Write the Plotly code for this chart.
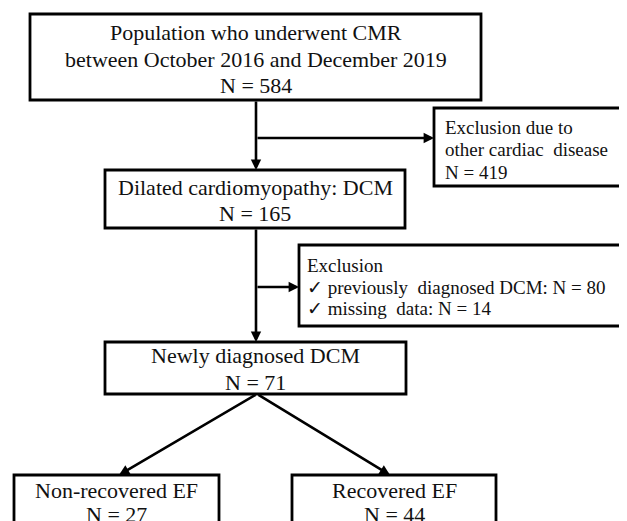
import plotly.graph_objects as go

W, H = 627, 521
OFF = 8  # page body margin offset compensation
FONT = "Liberation Serif, Times New Roman, serif"

# ---- data: node texts and counts ----
node_titles = [
    ["Population who underwent CMR", "between October 2016 and December 2019"],
    ["Dilated cardiomyopathy: DCM"],
    ["Newly diagnosed DCM"],
    ["Non-recovered EF"],
    ["Recovered EF"],
]
node_counts = [584, 165, 71, 27, 44]

excl1_lines = ["Exclusion due to", "other cardiac  disease"]
excl1_count = 419
excl2_title = "Exclusion"
excl2_reasons = ["previously  diagnosed DCM", "missing  data"]
excl2_counts = [80, 14]

# ---- layout geometry (pixels) ----
node_boxes = [
    (30, 14, 481, 100),
    (105, 170, 405, 228),
    (105, 342, 406, 394),
    (14, 475, 219, 540),
    (292, 475, 496, 540),
]
node_line_y = [
    [32, 59, 85],
    [187, 213],
    [355, 382],
    [490, 514],
    [490, 514],
]
excl_boxes = [(434, 108, 625, 186), (299, 245, 625, 326)]

fig = go.Figure()
shapes = []
annotations = []

def rect(b):
    shapes.append(dict(type="rect", xref="x", yref="y", x0=b[0], y0=b[1], x1=b[2], y1=b[3],
                       line=dict(color="black", width=2.8), fillcolor="white", layer="above"))

def text(x, y, s, anchor="center", size=22):
    annotations.append(dict(x=x, y=y, xref="x", yref="y", text=s, showarrow=False,
                            xanchor=anchor, yanchor="middle",
                            font=dict(family=FONT, size=size, color="#111")))

def arrow(x0, y0, x1, y1):
    annotations.append(dict(x=x1, y=y1, ax=x0, ay=y0, xref="x", yref="y", axref="x", ayref="y",
                            text="", showarrow=True, arrowhead=2, arrowsize=0.8,
                            arrowwidth=2.6, arrowcolor="black", standoff=0, startstandoff=0))

for b in node_boxes + excl_boxes:
    rect(b)

for i, b in enumerate(node_boxes):
    cx = (b[0] + b[2]) / 2
    lines = node_titles[i] + [f"N = {node_counts[i]}"]
    for s, y in zip(lines, node_line_y[i]):
        text(cx, y, s)

# exclusion box 1
for s, y in zip(excl1_lines + [f"N = {excl1_count}"], [127, 149, 172]):
    text(443, y, s, anchor="left", size=19)

# exclusion box 2
ex2 = [excl2_title] + [f"✓ {r}: N = {c}" for r, c in zip(excl2_reasons, excl2_counts)]
for s, y in zip(ex2, [265, 287, 308]):
    text(305, y, s, anchor="left", size=19)

# connectors
cx = 256
arrow(cx, 100, cx, 170)
arrow(cx, 138, 434, 138)
arrow(cx, 228, cx, 342)
arrow(cx, 287, 299, 287)
arrow(257, 394, 119, 475)
arrow(257, 394, 390, 475)

fig.update_layout(
    width=W - OFF, height=H - OFF,
    margin=dict(l=0, r=0, t=0, b=0),
    paper_bgcolor="white", plot_bgcolor="white",
    xaxis=dict(range=[OFF, W], visible=False, fixedrange=True),
    yaxis=dict(range=[H, OFF], visible=False, fixedrange=True),
    shapes=shapes, annotations=annotations, showlegend=False,
)
fig.write_html("out.html")
